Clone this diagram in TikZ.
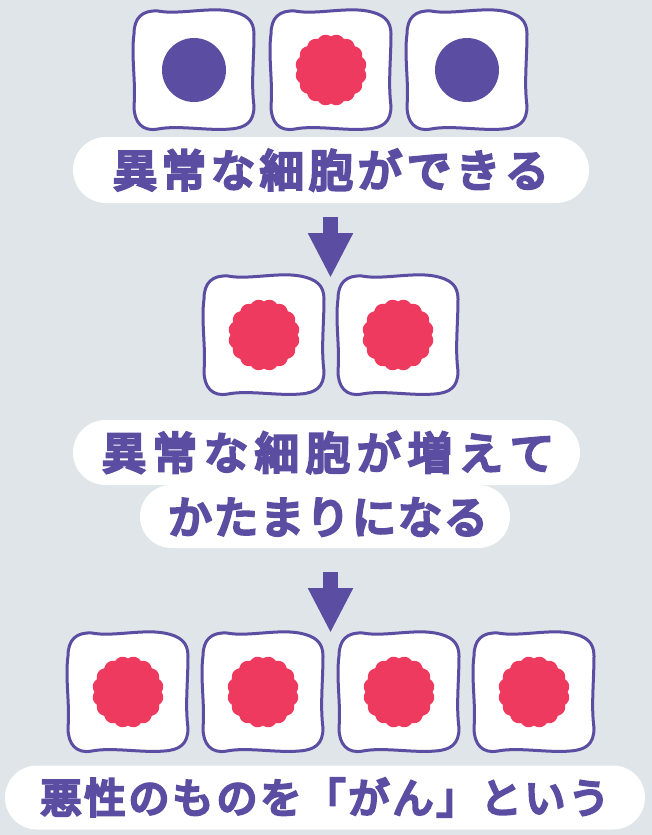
\documentclass[tikz,border=0pt]{standalone}
\usepackage{fontspec}
\newfontfamily\jp{Noto Sans CJK JP}[FakeBold=7]
\usetikzlibrary{arrows.meta,shapes.misc}

\definecolor{paper}{HTML}{DFE5E9}
\definecolor{ink}{HTML}{5B4EA2}
\definecolor{tumor}{HTML}{EF3A60}

% set a string one character at a time with a fixed kern between characters
\makeatletter
\newcommand\trackit[2]{\def\trk@sep{\kern#1}\trk@go#2\relax}
\def\trk@go#1{#1\trk@next}
\def\trk@next#1{\ifx#1\relax\else\trk@sep#1\expandafter\trk@next\fi}
\makeatother

\begin{document}
\begin{tikzpicture}[x=1pt,y=-1pt,
  cellwall/.style={draw=ink, line width=3pt, fill=white, line join=round},
  pill/.style={rounded rectangle, fill=white, inner sep=0pt, text=ink,
    font=\jp\fontsize{44}{48}\selectfont},
  flow/.style={draw=ink, line width=15pt, -{Triangle[length=45pt,width=42pt]}},
  pics/wall/.style={code={
    \path[cellwall] (-36,-59)
      .. controls (-16,-55) and (14,-63) .. (36,-59)
      .. controls (52,-56) and (60,-50) .. (60,-36)
      .. controls (60,-12) and (57,14) .. (60,36)
      .. controls (60,52) and (52,58) .. (36,59)
      .. controls (14,61) and (-16,55) .. (-36,59)
      .. controls (-52,62) and (-60,52) .. (-60,36)
      .. controls (-58,12) and (-63,-14) .. (-60,-36)
      .. controls (-60,-52) and (-52,-60) .. (-36,-59) -- cycle;
  }},
  pics/normalcell/.style={code={
    \pic {wall};
    \fill[ink] (0,0) circle[radius=32pt];
  }},
  pics/cancercell/.style={code={
    \pic {wall};
    \fill[tumor] plot[domain=0:357.5, samples=144, smooth cycle, variable=\t]
      ({(33.6+2.2*abs(sin(8*\t)))*cos(\t)}, {(33.6+2.2*abs(sin(8*\t)))*sin(\t)});
  }},
]
\useasboundingbox (0,0) rectangle (652,835);
\fill[paper] (0,0) rectangle (652,835);

% first stage: one abnormal cell among normal ones
\pic (n1) at (194,70) {normalcell};
\pic (c1) at (331,70) {cancercell};
\pic (n2) at (467,70) {normalcell};
\node[pill, minimum width=516pt, minimum height=66pt] (lab1) at (331,170)
  {\trackit{5pt}{異常な細胞ができる}};

\coordinate (a1s) at (330.5,217);
\coordinate (a1e) at (330.5,278);
\draw[flow] (a1s) -- (a1e);

% second stage: the abnormal cells multiply
\pic (c2) at (264,335) {cancercell};
\pic (c3) at (398,335) {cancercell};
\node[pill, minimum width=507pt, minimum height=65pt] (lab2a) at (326.5,452.5) {};
\node[pill, minimum width=370pt, minimum height=63pt] (lab2b) at (325,516.5) {};
\node[pill, fill=none] (txt2a) at (328,452.5) {\trackit{7pt}{異常な細胞が増えて}};
\node[pill, fill=none] (txt2b) at (328,517) {\trackit{2pt}{かたまりになる}};

\coordinate (a2s) at (330.5,572);
\coordinate (a2e) at (330.5,633);
\draw[flow] (a2s) -- (a2e);

% third stage: a malignant lump
\pic (c4) at (128,692) {cancercell};
\pic (c5) at (263,692) {cancercell};
\pic (c6) at (399,692) {cancercell};
\pic (c7) at (534,692) {cancercell};
\node[pill, minimum width=640pt, minimum height=64pt,
  font=\jp\fontsize{41}{45}\selectfont] (lab3) at (325,797.5)
  {\trackit{3pt}{悪性のものを「がん」という}};
\end{tikzpicture}
\end{document}
